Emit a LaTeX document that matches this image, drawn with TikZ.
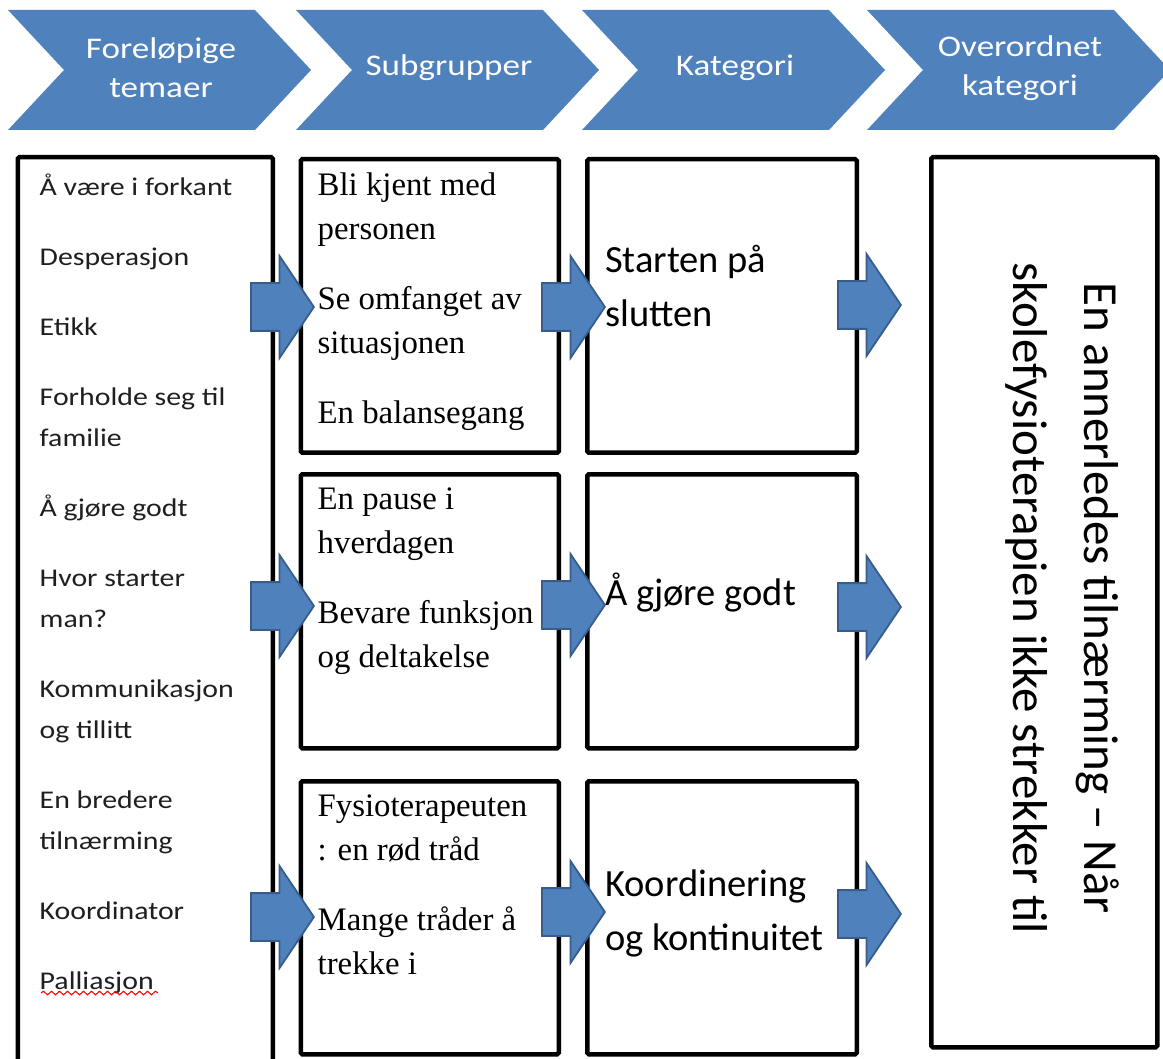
\documentclass[tikz,border=0pt]{standalone}
\usepackage{fontspec}
\setmainfont{Carlito}
\newfontfamily\wideCal[FakeStretch=1.17]{Carlito}
\newfontfamily\timesFont{Liberation Serif}
\usetikzlibrary{positioning,shapes.arrows,decorations.pathmorphing}

\definecolor{chevblue}{HTML}{4F81BD}
\definecolor{chevedge}{HTML}{385D8A}

\begin{document}
\begin{tikzpicture}[x=1pt, y=-1pt,
    chev/.style={fill=chevblue},
    chev-lbl/.style={text=white, align=center, inner sep=0, font=\wideCal\fontsize{30}{39}\selectfont},
    colbox/.style={draw, line width=4.5pt, rounded corners=1.5pt, anchor=north west, inner sep=0},
    blk-arrow/.style={single arrow, fill=chevblue, draw=chevedge, line width=1.8pt,
      minimum height=63pt, inner xsep=0pt, inner ysep=23pt, single arrow head extend=27pt,
      single arrow tip angle=112, anchor=tail},
    list-txt/.style={align=left, inner sep=0}
  ]

\clip (0,0) rectangle (1163,1059);

% Chevron header
\foreach \lx/\txt [count=\i] in {8/{Foreløpige\\temaer}, 296/Subgrupper, 582/Kategori, 867/{Overordnet\\kategori}} {
  \fill[chev] (\lx,10) -- ++(247,0) -- ++(56,60) -- ++(-56,60) -- ++(-247,0) -- ++(56,-60) -- cycle;
  \node[chev-lbl] (hdr-\i) at (\lx+153,68) {\txt};
}

% Column boxes
\node[colbox, minimum width=255pt, minimum height=960pt] (tema) at (15.5,155) {};
\foreach \r/\btop/\bht in {1/157/293.5, 2/472/274, 3/779/273} {
  \node[colbox, minimum width=258pt, minimum height=\bht pt] (sub-\r) at (298.5,\btop) {};
  \node[colbox, minimum width=269.5pt, minimum height=\bht pt] (kat-\r) at (585,\btop) {};
}
\node[colbox, minimum width=226pt, minimum height=890pt] (over) at (929,155) {};

% Foreløpige temaer
\node[list-txt, text=black!88, font=\wideCal\fontsize{25.5}{41}\selectfont,
  below right=19pt and 24pt of tema.north west] (tema-txt)
  {Å være i forkant\\[29pt]
   Desperasjon\\[29pt]
   Etikk\\[29pt]
   Forholde seg til\\familie\\[29pt]
   Å gjøre godt\\[29pt]
   Hvor starter\\man?\\[29pt]
   Kommunikasjon\\og tillitt\\[29pt]
   En bredere\\tilnærming\\[29pt]
   Koordinator\\[29pt]
   Palliasjon};
\draw[red, line width=1pt, decorate, decoration={snake, amplitude=1.8pt, segment length=8pt}]
  (41,993) -- (158,993);

% Subgrupper
\tikzset{sub-txt/.style={list-txt, font=\timesFont\fontsize{32.8}{44}\selectfont}}
\node[sub-txt, below right=16pt and 19pt of sub-1.north west] (sub-1-txt)
  {Bli kjent med\\personen\\[26pt]Se omfanget av\\situasjonen\\[26pt]En balansegang};
\node[sub-txt, below right=16pt and 19pt of sub-2.north west] (sub-2-txt)
  {En pause i\\hverdagen\\[26pt]Bevare funksjon\\og deltakelse};
\node[sub-txt, below right=16pt and 19pt of sub-3.north west] (sub-3-txt)
  {Fysioterapeuten\\: en rød tråd\\[26pt]Mange tråder å\\trekke i};

% Kategori
\tikzset{kat-txt/.style={list-txt, font=\fontsize{38.5}{54}\selectfont}}
\node[kat-txt, below right=88pt and 20pt of kat-1.north west] (kat-1-txt) {Starten på\\slutten};
\node[kat-txt, below right=101pt and 20pt of kat-2.north west] (kat-2-txt) {Å gjøre godt};
\node[kat-txt, below right=91pt and 20pt of kat-3.north west] (kat-3-txt) {Koordinering\\og kontinuitet};

% Overordnet kategori
\node[rotate=-90, align=center, inner sep=0, font=\fontsize{49}{71}\selectfont] (over-txt)
  at (1062,598) {En annerledes tilnærming – Når\\skolefysioterapien ikke strekker til};

% Block arrows between the columns
\foreach \r/\ya/\yb/\yc in {1/307/307/305, 2/606/605/607, 3/917/912/914} {
  \node[blk-arrow] (arr-a\r) at (250,\ya) {};
  \node[blk-arrow] (arr-b\r) at (541,\yb) {};
  \node[blk-arrow] (arr-c\r) at (837,\yc) {};
}

\end{tikzpicture}
\end{document}
